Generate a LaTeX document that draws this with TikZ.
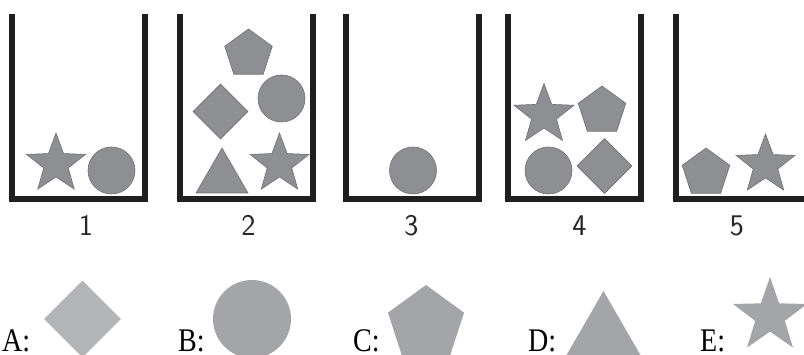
\documentclass[tikz,border=0pt]{standalone}
\usepackage{fontspec}
\usetikzlibrary{shapes.geometric}
\newfontfamily\letterfont{Liberation Serif}
\definecolor{piecefill}{RGB}{142,143,147}
\definecolor{piecedraw}{RGB}{112,112,116}
\definecolor{lightfill}{RGB}{178,180,184}
\definecolor{choicefill}{RGB}{164,165,169}

\begin{document}
\begin{tikzpicture}[x=1pt, y=-1pt,
    cupwall/.style={line width=6pt, black!88, line join=miter, line cap=butt},
    piece/.style={draw=piecedraw, fill=piecefill, line width=0.6pt, inner sep=0pt},
    choice/.style={fill=choicefill, inner sep=0pt},
    pstar/.style={star, star points=5, star point ratio=2.4, minimum size=#1},
    pent/.style={regular polygon, regular polygon sides=5, minimum size=#1},
    tri/.style={regular polygon, regular polygon sides=3, minimum size=#1},
    cupnum/.style={font=\sffamily\fontsize{30}{34}\selectfont, text=black!85, anchor=base},
    letter/.style={font=\letterfont\fontsize{33}{36}\selectfont, xscale=0.85, anchor=base west, inner sep=0pt}]
    \clip (0,0) rectangle (804,355);
    % cups
    \foreach \x in {12,180,345.5,508}
        \draw[cupwall] (\x,14) -- (\x,199) -- (\x+133,199) -- (\x+133,14);
    \draw[cupwall] (675.5,14) -- (675.5,199) -- (810,199);
    \foreach \n/\x in {1/86,2/248.5,3/411.5,4/579.5,5/737}
        \node[cupnum] (num\n) at (\x,236) {\n};
    % cup 1
    \node[piece, pstar=62] (starA) at (56,164) {};
    \node[piece, circle, minimum size=47] (circA) at (111.5,170.5) {};
    % cup 2
    \node[piece, pent=50] (pentB) at (248.5,54) {};
    \node[piece, diamond, minimum size=55] (diamB) at (220.5,111.5) {};
    \node[piece, circle, minimum size=47] (circB) at (281.5,98.5) {};
    \node[piece, tri=60] (triB) at (222,178) {};
    \node[piece, pstar=62] (starB) at (279.5,164) {};
    % cup 3
    \node[piece, circle, minimum size=47] (circC) at (413,170.5) {};
    % cup 4
    \node[piece, pstar=63] (starD) at (544,115) {};
    \node[piece, pent=50] (pentD) at (602,111) {};
    \node[piece, circle, minimum size=47] (circD) at (548.5,170.5) {};
    \node[piece, diamond, minimum size=55] (diamD) at (604.5,166) {};
    % cup 5
    \node[piece, pent=50] (pentE) at (706,173) {};
    \node[piece, pstar=62] (starE) at (765.5,165) {};
    % answers
    \node[letter] (labA) at (2,352) {A:};
    \node[choice, fill=lightfill, diamond, minimum size=77] (ansA) at (82.5,319) {};
    \node[letter] (labB) at (178,352) {B:};
    \node[choice, circle, minimum size=78] (ansB) at (252,319) {};
    \node[letter] (labC) at (353,352) {C:};
    \node[choice, pent=80] (ansC) at (426,325) {};
    \node[letter] (labD) at (528,352) {D:};
    \node[choice, tri=90] (ansD) at (603.5,336) {};
    \node[letter] (labE) at (700,352) {E:};
    \node[choice, pstar=78, star point ratio=2.5] (ansE) at (770,316) {};
\end{tikzpicture}
\end{document}
